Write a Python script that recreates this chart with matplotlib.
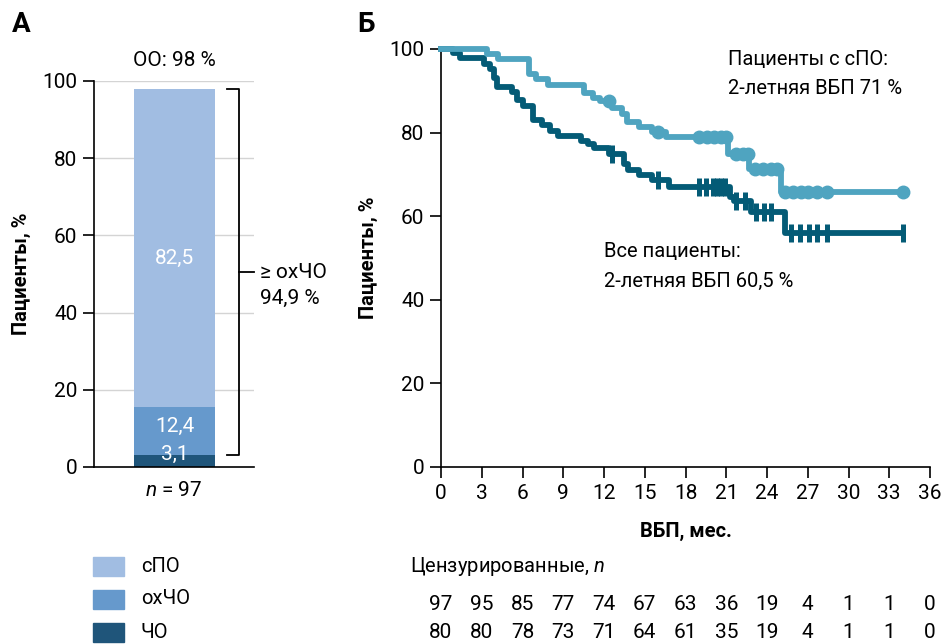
import numpy as np
import matplotlib
matplotlib.use("Agg")
import matplotlib.pyplot as plt
from matplotlib.patches import Rectangle
from matplotlib.transforms import blended_transform_factory

plt.rcParams['font.family'] = ['Roboto', 'DejaVu Sans']
plt.rcParams['mathtext.fontset'] = 'custom'
plt.rcParams['mathtext.rm'] = 'Roboto'
plt.rcParams['mathtext.it'] = 'Roboto:italic'

# --- Панель А: структура ответа ---
resp_labels = ['ЧО', 'охЧО', 'сПО']
resp_values = [3.1, 12.4, 82.5]
resp_colors = ['#1f557a', '#6699cc', '#a1bde2']
oo_total = 98

# --- Панель Б: кривые Каплана-Мейера (ВБП) ---
all_t = [0, 0.9, 1.4, 3.2, 3.6, 3.9, 4.1, 5.2, 5.6, 6.0, 6.8, 7.4, 8.0, 8.6,
         10.3, 10.8, 11.3, 12.4, 13.5, 13.8, 14.6, 15.5, 16.8, 21.3, 21.6,
         22.8, 25.3, 34.0]
all_s = [100, 99.0, 97.8, 96.4, 95.2, 93.0, 90.8, 89.6, 87.8, 86.4, 83.0, 81.7,
         80.5, 79.3, 78.1, 77.2, 76.3, 74.9, 72.5, 71.0, 69.8, 68.6, 67.0, 64.6,
         63.6, 61.0, 55.9, 55.9]
all_cens = [12.6, 16.0, 19.0, 19.5, 20.0, 20.3, 20.6, 20.9, 21.7, 22.4, 23.2,
            23.8, 24.3, 25.8, 26.4, 27.1, 27.7, 28.4, 34.0]

spo_t = [0, 3.4, 4.2, 6.5, 7.0, 7.9, 10.5, 11.2, 11.7, 12.6, 13.3, 13.7, 14.6,
         15.5, 16.6, 21.1, 22.7, 25.0, 34.0]
spo_s = [100, 98.7, 97.5, 94.0, 92.8, 91.4, 89.5, 88.2, 87.6, 86.0, 84.4, 82.5,
         81.3, 80.1, 78.9, 74.9, 71.3, 65.8, 65.8]
spo_cens = [12.4, 16.0, 19.0, 19.6, 20.1, 20.6, 21.0, 21.7, 22.2, 22.6, 23.1,
            23.7, 24.3, 24.7, 25.3, 25.9, 26.5, 27.0, 27.7, 28.4, 34.0]

risk_times = list(range(0, 37, 3))
risk_all = [97, 95, 85, 77, 74, 67, 63, 36, 19, 4, 1, 1, 0]
risk_spo = [80, 80, 78, 73, 71, 64, 61, 35, 19, 4, 1, 1, 0]

c_all = '#045b76'
c_spo = '#4fa4c0'

W, H = 943, 644
fs = 14.5


def fx(x):
    return x / W


def fy(y):
    return 1 - y / H


def step_value(t, times, vals):
    # значение ступенчатой кривой в момент t
    i = np.searchsorted(times, t, side='right') - 1
    return np.array(vals)[i]


fig = plt.figure(figsize=(W / 100, H / 100), dpi=100)

# ===================== А =====================
axA = fig.add_axes([fx(94), fy(467), (254 - 94) / W, (467 - 81) / H])
axA.set_xlim(0, 1)
axA.set_ylim(0, 100)
axA.set_yticks(range(0, 101, 20))
axA.set_xticks([])
for y in range(20, 101, 20):
    axA.axhline(y, color='#d4d4d4', lw=1, zorder=0)

bottom = 0
for lab, val, col in zip(resp_labels, resp_values, resp_colors):
    axA.bar(0.503, val, width=0.506, bottom=bottom, color=col, zorder=2)
    bottom += val

axA.text(0.503, 54, '82,5', color='white', ha='center', va='center', fontsize=fs + 0.5, zorder=3)
axA.text(0.503, 10.4, '12,4', color='white', ha='center', va='center', fontsize=fs + 0.5, zorder=3)
axA.text(0.503, 3.3, '3,1', color='white', ha='center', va='center', fontsize=fs + 0.5, zorder=3)

for s in ['top', 'right']:
    axA.spines[s].set_visible(False)
axA.spines['left'].set_linewidth(1.2)
axA.spines['bottom'].set_linewidth(1.2)
axA.tick_params(axis='y', length=8, width=1.2, labelsize=fs + 0.5, pad=4)
axA.set_ylabel('Пациенты, %', fontsize=fs, fontweight='bold', labelpad=8)

# скобка ≥ охЧО
tr = axA.get_yaxis_transform()
top = sum(resp_values)
low = resp_values[0]
mid = (top + low) / 2
axA.plot([0.831, 0.906, 0.906, 0.831], [top, top, low, low], color='black',
         lw=1.3, transform=tr, clip_on=False)
axA.plot([0.906, 1.0], [mid, mid], color='black', lw=1.3, transform=tr, clip_on=False)
fig.text(fx(260), fy(272), '≥ охЧО', ha='left', va='center', fontsize=fs + 0.5)
fig.text(fx(260), fy(298), '94,9 %', ha='left', va='center', fontsize=fs + 0.5)

fig.text(fx(174), fy(60), 'ОО: %d %%' % oo_total, ha='center', va='center', fontsize=fs + 0.5)
fig.text(fx(174), fy(491), '$n$ = 97', ha='center', va='center', fontsize=fs + 0.5)
fig.text(fx(12), fy(25), 'А', ha='left', va='center', fontsize=20, fontweight='bold')

# легенда
leg_y = [566, 599, 632]
for yy, lab, col in zip(leg_y, resp_labels[::-1], resp_colors[::-1]):
    fig.add_artist(Rectangle((fx(93), fy(yy + 9.5)), 31 / W, 19 / H,
                             transform=fig.transFigure, color=col))
    fig.text(fx(141), fy(yy), lab, ha='left', va='center', fontsize=fs)

# ===================== Б =====================
axB = fig.add_axes([fx(441), fy(467), (930 - 441) / W, (467 - 49) / H])
axB.set_xlim(0, 36)
axB.set_ylim(0, 100)
axB.set_xticks(risk_times)
axB.set_yticks(range(0, 101, 20))

axB.step(all_t, all_s, where='post', color=c_all, lw=4.2, clip_on=False, zorder=3)
axB.plot(all_cens, step_value(all_cens, all_t, all_s), linestyle='none', marker='|',
         markersize=13, markeredgewidth=3.6, color=c_all, clip_on=False, zorder=3)
axB.step(spo_t, spo_s, where='post', color=c_spo, lw=4.2, clip_on=False, zorder=4)
axB.plot(spo_cens, step_value(spo_cens, spo_t, spo_s), linestyle='none', marker='o',
         markersize=9, color=c_spo, clip_on=False, zorder=4)

for s in ['top', 'right']:
    axB.spines[s].set_visible(False)
axB.spines['left'].set_linewidth(1.2)
axB.spines['bottom'].set_linewidth(1.2)
axB.tick_params(axis='both', length=8, width=1.2, labelsize=fs + 0.5, pad=4)
axB.set_ylabel('Пациенты, %', fontsize=fs, fontweight='bold', labelpad=8)
axB.set_xlabel('ВБП, мес.', fontsize=fs, fontweight='bold', labelpad=14)

fig.text(fx(728), fy(59), 'Пациенты с сПО:', ha='left', va='center', fontsize=fs)
fig.text(fx(728), fy(89), '2-летняя ВБП 71 %', ha='left', va='center', fontsize=fs)
fig.text(fx(604), fy(251), 'Все пациенты:', ha='left', va='center', fontsize=fs)
fig.text(fx(604), fy(281), '2-летняя ВБП 60,5 %', ha='left', va='center', fontsize=fs)
fig.text(fx(357), fy(25), 'Б', ha='left', va='center', fontsize=20, fontweight='bold')

fig.text(fx(410), fy(567), 'Цензурированные, $n$', ha='left', va='center', fontsize=fs)
trr = blended_transform_factory(axB.transData, fig.transFigure)
for t, a, b in zip(risk_times, risk_all, risk_spo):
    axB.text(t, fy(605), str(a), transform=trr, ha='center', va='center', fontsize=fs + 0.5)
    axB.text(t, fy(633), str(b), transform=trr, ha='center', va='center', fontsize=fs + 0.5)

fig.savefig('out.png', dpi=100)
